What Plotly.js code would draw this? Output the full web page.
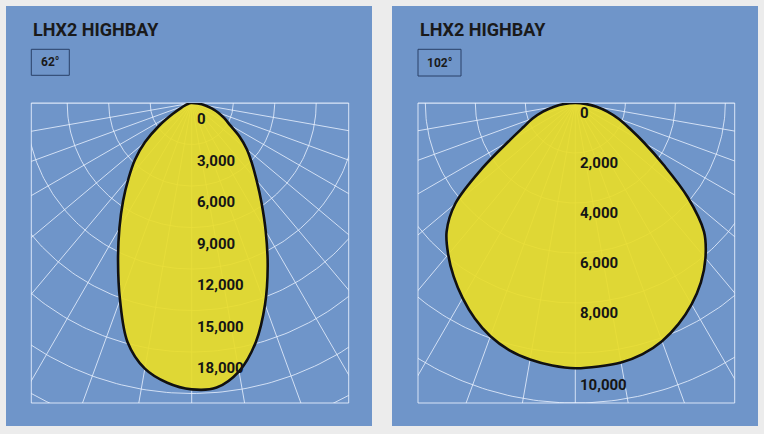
<!DOCTYPE html>
<html>
<head>
<meta charset="utf-8">
<script src="https://cdn.plot.ly/plotly-3.0.1.min.js"></script>
<style>
  html, body { margin: 0; padding: 0; background: #ececec; }
  #chart { width: 764px; height: 434px; }
</style>
</head>
<body>
<div id="chart"></div>
<script>
// ---------------- DATA ----------------
const TITLE_TEXT = "LHX2 HIGHBAY";
const BEAM_LABELS = ["62°", "102°"];
// angles from nadir (deg), negative = left half, positive = right half
const ANGLES = [-90,-85,-80,-75,-70,-65,-60,-55,-50,-45,-40,-35,-30,-25,-20,-15,-10,-5,0,
                5,10,15,20,25,30,35,40,45,50,55,60,65,70,75,80,85,90];
// candela values
const CD_62 = [0,70,150,290,510,870,1600,2900,4400,5800,7100,8650,10450,12600,15150,17900,19500,20300,20700,
               20650,19700,17900,15500,13000,10700,8800,7300,6150,5200,4200,3200,2600,2050,1500,1000,430,0];
const CD_102 = [0,440,860,1340,1820,2300,3100,4530,6270,7280,7910,8480,9010,9510,9930,10230,10420,10540,10610,
                10580,10540,10400,10140,9760,9300,8760,8100,7280,5880,4310,3180,2390,1840,1330,860,400,0];
// radial tick values and labels
const TICKS_62 = [0,3000,6000,9000,12000,15000,18000];
const TICK_LABELS_62 = ["0","3,000","6,000","9,000","12,000","15,000","18,000"];
const TICKS_102 = [0,2000,4000,6000,8000,10000];
const TICK_LABELS_102 = ["0","2,000","4,000","6,000","8,000","10,000"];
const SPOKE_ANGLES = [-90,-80,-70,-60,-50,-40,-30,-20,-10,0,10,20,30,40,50,60,70,80,90];

// ---------------- LAYOUT CONSTANTS (pixels) ----------------
const W = 764, H = 434;
const BLUE = "#6f95c9";
const panels = [
  { panel:[6,6,372,426], plot:[31.3,103,348.7,403], ox:191.7, pxPerCd:41.5/3000, ringStep:3000,
    cd:CD_62, ticks:TICKS_62, tickLabels:TICK_LABELS_62, beam:BEAM_LABELS[0],
    box:[31.3,49.3,69.3,75.3], titleX:31, labelShift:-5 },
  { panel:[392,6,758,426], plot:[418,103,734.7,403], ox:575.3, pxPerCd:50/2000, ringStep:2000,
    cd:CD_102, ticks:TICKS_102, tickLabels:TICK_LABELS_102, beam:BEAM_LABELS[1],
    box:[418,49.3,461,76], titleX:418, labelShift:1 }
];
const px = x => x / W;
const py = y => 1 - y / H;
const rad = d => d * Math.PI / 180;

const data = [], shapes = [], annotations = [];
const layout = {
  width: W, height: H, margin: {l:0, r:0, t:0, b:0},
  paper_bgcolor: "#ececec", plot_bgcolor: "rgba(0,0,0,0)",
  showlegend: false, hovermode: false
};

panels.forEach((p, i) => {
  const n = i === 0 ? "" : String(i + 1);
  const xa = "x" + n, ya = "y" + n;
  const k = p.pxPerCd;
  const [L, T, R, B] = p.plot;
  layout["xaxis" + n] = {
    domain: [px(L), px(R)], range: [(L - p.ox) / k, (R - p.ox) / k],
    visible: false, fixedrange: true, anchor: ya
  };
  layout["yaxis" + n] = {
    domain: [py(B), py(T)], range: [-(B - T) / k, 0],
    visible: false, fixedrange: true, anchor: xa
  };
  const maxR = Math.hypot(Math.max(p.ox - L, R - p.ox), B - T) / k * 1.05;

  // spokes
  const sx = [], sy = [];
  SPOKE_ANGLES.forEach(a => {
    sx.push(0, maxR * Math.sin(rad(a)), null);
    sy.push(0, -maxR * Math.cos(rad(a)), null);
  });
  data.push({ type:"scatter", mode:"lines", x:sx, y:sy, xaxis:xa, yaxis:ya,
              line:{color:"rgba(235,242,255,0.8)", width:1}, hoverinfo:"skip" });
  // rings
  const rx = [], ry = [];
  for (let r = p.ringStep; r <= maxR; r += p.ringStep) {
    for (let a = -90; a <= 90; a += 1) {
      rx.push(r * Math.sin(rad(a)));
      ry.push(-r * Math.cos(rad(a)));
    }
    rx.push(null); ry.push(null);
  }
  data.push({ type:"scatter", mode:"lines", x:rx, y:ry, xaxis:xa, yaxis:ya,
              line:{color:"rgba(235,242,255,0.8)", width:1}, hoverinfo:"skip" });
  // intensity curve
  data.push({
    type:"scatter", mode:"lines", xaxis:xa, yaxis:ya,
    x: ANGLES.map((a, j) => p.cd[j] * Math.sin(rad(a))),
    y: ANGLES.map((a, j) => -p.cd[j] * Math.cos(rad(a))),
    fill:"toself", fillcolor:"rgba(232,220,40,0.92)",
    line:{color:"#111111", width:2.6, shape:"spline", smoothing:1}, hoverinfo:"skip"
  });

  // panel background
  shapes.push({ type:"rect", xref:"paper", yref:"paper", layer:"below",
    x0:px(p.panel[0]), x1:px(p.panel[2]), y0:py(p.panel[3]), y1:py(p.panel[1]),
    fillcolor:BLUE, line:{width:0} });
  // plot border
  shapes.push({ type:"rect", xref:"paper", yref:"paper", layer:"below",
    x0:px(L), x1:px(R), y0:py(B), y1:py(T),
    fillcolor:"rgba(0,0,0,0)", line:{color:"rgba(235,242,255,0.85)", width:1} });
  // beam box
  shapes.push({ type:"rect", xref:"paper", yref:"paper", layer:"above",
    x0:px(p.box[0]), x1:px(p.box[2]), y0:py(p.box[3]), y1:py(p.box[1]),
    fillcolor:"rgba(0,0,0,0)", line:{color:"#2a4068", width:1} });

  annotations.push({ xref:"paper", yref:"paper", x:px(p.titleX), y:py(29.5),
    xanchor:"left", yanchor:"middle", showarrow:false, text:TITLE_TEXT,
    font:{family:"Roboto", size:18, color:"#1a1a1a", weight:700} });
  annotations.push({ xref:"paper", yref:"paper", x:px((p.box[0]+p.box[2])/2), y:py((p.box[1]+p.box[3])/2),
    xanchor:"center", yanchor:"middle", showarrow:false, text:p.beam,
    font:{family:"Roboto", size:12, color:"#1a1a1a", weight:700} });

  // radial tick labels
  const peak = p.cd[ANGLES.indexOf(0)];
  p.ticks.forEach((v, j) => {
    let y = -v, ys = p.labelShift;
    if (v < peak && (peak - v) * k < 20) { y = -peak; ys = -6; }
    annotations.push({ xref:xa, yref:ya, x:0, y:y, xanchor:"left", yanchor:"top",
      xshift:3, yshift:ys, showarrow:false, text:p.tickLabels[j],
      font:{family:"Roboto", size:15, color:"#151515", weight:700} });
  });
});

layout.shapes = shapes;
layout.annotations = annotations;
Plotly.newPlot("chart", data, layout, {staticPlot:true, displayModeBar:false});
</script>
</body>
</html>
